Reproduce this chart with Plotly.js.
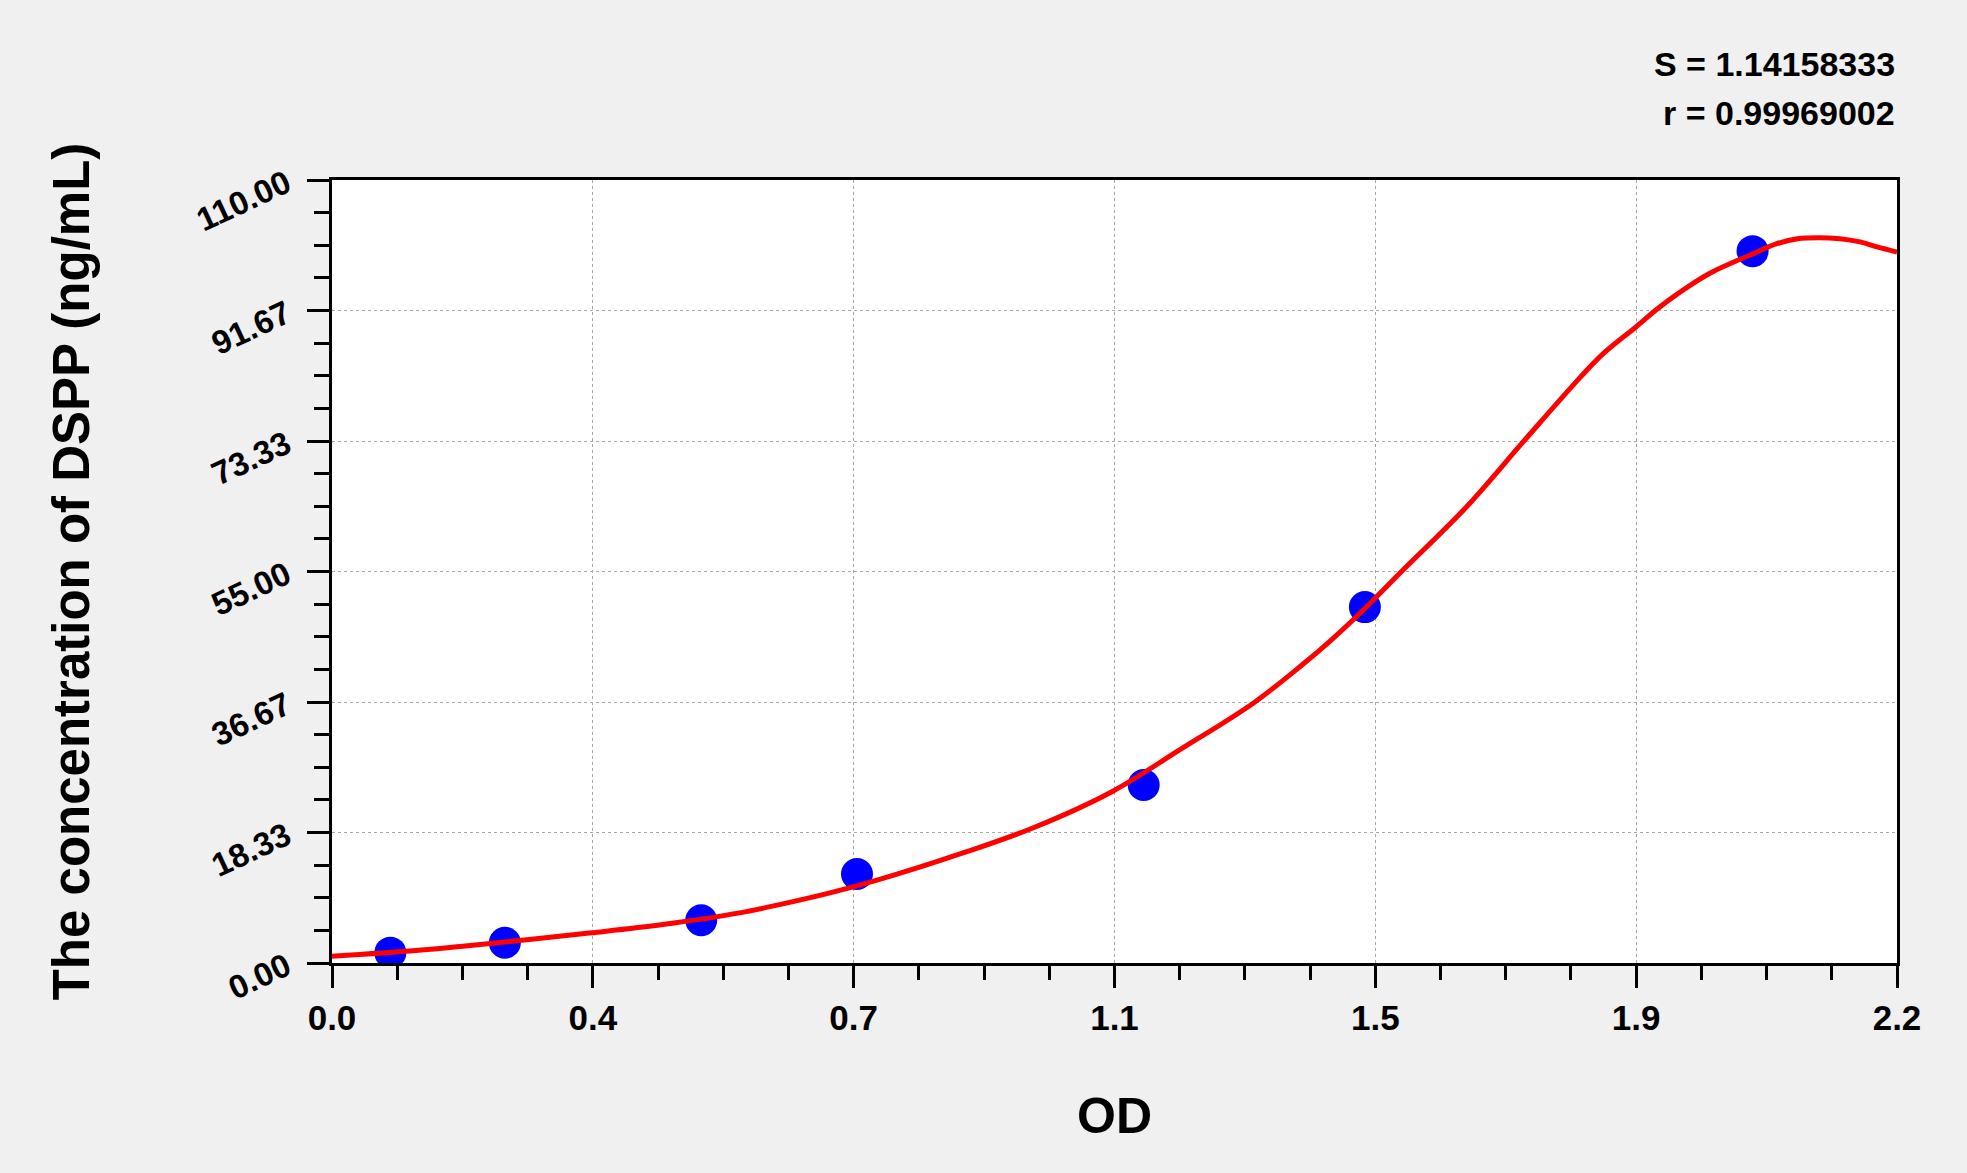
<!DOCTYPE html>
<html>
<head>
<meta charset="utf-8">
<script src="https://cdn.plot.ly/plotly-3.0.1.min.js"></script>
<style>
  html, body { margin: 0; padding: 0; background: #f0f0f0; }
  #chart { width: 1967px; height: 1173px; }
</style>
</head>
<body>
<div id="chart"></div>
<script>
// Standard points (OD vs concentration)
const stdOD   = [0.082, 0.243, 0.519, 0.738, 1.141, 1.452, 1.997];
const stdConc = [1.45, 2.85, 6.0, 12.5, 25.0, 50.0, 100.0];

// Fitted curve
const fitOD   = [0, 0.118, 0.184, 0.365, 0.465, 0.573, 0.629, 0.70, 0.765, 0.887, 0.986, 1.097, 1.192, 1.295, 1.361, 1.405, 1.452, 1.501, 1.595, 1.675, 1.754, 1.787, 1.833, 1.862, 1.890, 1.937, 1.997, 2.031, 2.06, 2.09, 2.12, 2.148, 2.172, 2.2];
const fitConc = [0.95, 1.75, 2.36, 4.24, 5.40, 7.04, 8.2, 9.85, 11.6, 15.46, 19.0, 24.1, 29.96, 36.5, 41.65, 45.4, 49.8, 54.75, 64.1, 73.27, 82.2, 85.6, 89.35, 91.8, 93.9, 96.9, 99.6, 101.05, 101.75, 101.9, 101.75, 101.3, 100.6, 99.87];

// Axis ticks
const xTickVals = [0, 2.2/6, 2*2.2/6, 3*2.2/6, 4*2.2/6, 5*2.2/6, 2.2];
const xTickText = ['0.0', '0.4', '0.7', '1.1', '1.5', '1.9', '2.2'];

const statS = 'S = 1.14158333';
const statR = 'r = 0.99969002';

const boldFont = 'Liberation Sans, Arial, sans-serif';

const traces = [
  {
    x: stdOD, y: stdConc, type: 'scatter', mode: 'markers',
    marker: { color: '#0000ff', size: 32, line: { width: 0 } },
    hoverinfo: 'skip'
  },
  {
    x: fitOD, y: fitConc, type: 'scatter', mode: 'lines',
    line: { color: '#ff0000', width: 5, shape: 'spline', smoothing: 1 },
    hoverinfo: 'skip'
  }
];

const layout = {
  width: 1967, height: 1173,
  paper_bgcolor: '#f0f0f0',
  plot_bgcolor: '#ffffff',
  showlegend: false,
  margin: { l: 332, r: 70, t: 180, b: 210, pad: 0 },
  xaxis: {
    range: [0, 2.2],
    tickmode: 'array', tickvals: xTickVals, ticktext: xTickText,
    ticks: 'outside', ticklen: 22, tickwidth: 3, tickcolor: '#000',
    tickfont: { family: boldFont, size: 35, color: '#000', weight: 'bold' },
    showline: true, linecolor: '#000', linewidth: 3, mirror: true,
    showgrid: true, gridcolor: '#a8a8a8', gridwidth: 1, griddash: 'dot',
    zeroline: false,
    minor: { tickmode: 'linear', tick0: 0, dtick: 2.2/24, ticks: 'outside', ticklen: 14, tickwidth: 3, tickcolor: '#000', showgrid: false },
    title: { text: 'OD', standoff: 62, font: { family: boldFont, size: 50, color: '#000', weight: 'bold' } },
    automargin: false
  },
  yaxis: {
    range: [0, 110],
    tickmode: 'linear', tick0: 0, dtick: 110/6, tickformat: '.2f',
    tickangle: -25,
    ticklabelstandoff: 14,
    ticks: 'outside', ticklen: 22, tickwidth: 3, tickcolor: '#000',
    tickfont: { family: boldFont, size: 33, color: '#000', weight: 'bold' },
    showline: true, linecolor: '#000', linewidth: 3, mirror: true,
    showgrid: true, gridcolor: '#a8a8a8', gridwidth: 1, griddash: 'dot',
    zeroline: false,
    minor: { tickmode: 'linear', tick0: 0, dtick: 110/24, ticks: 'outside', ticklen: 15, tickwidth: 3, tickcolor: '#000', showgrid: false },
    title: { text: 'The concentration of DSPP (ng/mL)', standoff: 86, font: { family: boldFont, size: 51, color: '#000', weight: 'bold' } },
    automargin: false
  },
  annotations: [
    { text: statS, xref: 'paper', yref: 'paper', x: 1.0, y: 1.148, xanchor: 'right', yanchor: 'middle', showarrow: false,
      font: { family: boldFont, size: 34, color: '#000', weight: 'bold' } },
    { text: statR, xref: 'paper', yref: 'paper', x: 1.0, y: 1.085, xanchor: 'right', yanchor: 'middle', showarrow: false,
      font: { family: boldFont, size: 34, color: '#000', weight: 'bold' } }
  ]
};

Plotly.newPlot('chart', traces, layout, { displayModeBar: false, staticPlot: true });
</script>
</body>
</html>
